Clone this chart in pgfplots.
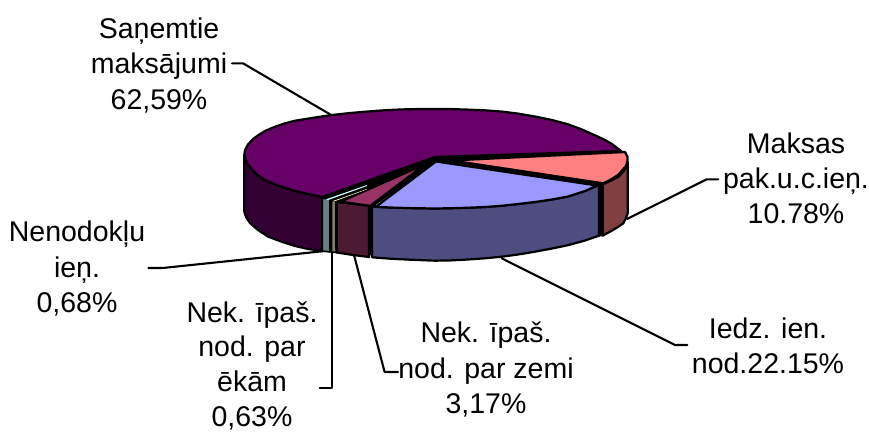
\documentclass[border=0pt]{standalone}
\usepackage{pgfplots}
\pgfplotsset{compat=1.18}
\usepackage{fontspec}
\setmainfont{Liberation Sans}
\definecolor{pTop}{HTML}{660066}\definecolor{pSide}{HTML}{330033}
\definecolor{bTop}{HTML}{9999FF}\definecolor{bSide}{HTML}{4D4D80}
\definecolor{sTop}{HTML}{FF8080}\definecolor{sSide}{HTML}{804040}
\definecolor{mTop}{HTML}{993366}\definecolor{mSide}{HTML}{4D1A33}
\definecolor{cTop}{HTML}{CCFFFF}\definecolor{cSide}{HTML}{668080}
\definecolor{yTop}{HTML}{FFFFCC}\definecolor{ySide}{HTML}{808066}
\newcommand{\lab}[3]{\node[anchor=base,inner sep=0pt,font=\fontsize{28.5}{34}\selectfont] at (axis cs:#1,#2) {#3};}
\begin{document}
\begin{tikzpicture}
\begin{axis}[
  at={(0,0)},anchor=south west,
  scale only axis,width=869pt,height=431pt,
  xmin=0,xmax=869,ymin=0,ymax=431,y dir=reverse,
  hide axis,clip=false,
  every axis plot/.append style={line join=round,line cap=round}]
% leader lines
\addplot[black,line width=2.1pt] coordinates {(232,63.3)(243,63.3)(332,115.5)};
\addplot[black,line width=2.1pt] coordinates {(718.3,179.3)(706.7,179.3)(627,219)};
\addplot[black,line width=2.1pt] coordinates {(687.3,345)(675,345)(501.7,258.3)};
\addplot[black,line width=2.1pt] coordinates {(148.5,268)(162.6,268)(325,251)};
\addplot[black,line width=2.1pt] coordinates {(319.6,388)(332.2,388)(332.2,252)};
\addplot[black,line width=2.1pt] coordinates {(398,372)(384.6,372)(354,255)};
% backing
\addplot[fill=black,draw=black,line width=1pt] coordinates {(322.3,198)(372,206)(600,185)(627,160)(627,213)(602,235.7)(435,260)(322.3,251)} -- cycle;
% purple side
\addplot[fill=pSide,draw=black,line width=2.2pt] coordinates {(244.3,155)(246,161)(250,167)(257,174.5)(265,180)(278,185.5)(291.7,190)(306,193.5)(322.3,197)(322.3,251)(308,249)(295,246)(281,241.5)(268.3,236.7)(258,230)(250,223)(246,217)(244.3,211.7)} -- cycle;
% small sides
\addplot[fill=cSide,draw=black,line width=1.6pt] coordinates {(322.3,198)(330,199.5)(330,252)(322.3,251)} -- cycle;
\addplot[fill=ySide,draw=black,line width=1.6pt] coordinates {(331.5,200)(336,201.5)(336,252.5)(331.5,252)} -- cycle;
\addplot[fill=mSide,draw=black,line width=2.2pt] coordinates {(336.7,202)(369,205.5)(369,257)(353,255)(336.7,252.5)} -- cycle;
% blue side
\addplot[fill=bSide,draw=black,line width=2.2pt] coordinates {(372,206.7)(390,207.5)(410,208.1)(435,208.5)(451,208.2)(468,207.7)(485,207)(502,205.7)(518,204)(535,202)(552,199.5)(568,196.5)(585,191)(599,185)(599,235.7)(585,240.5)(568,245.2)(552,248.5)(535,251.7)(518,254.5)(502,256.7)(485,258.3)(468,259.5)(451,260.4)(435,260.7)(410,259.7)(390,258.7)(372,257.3)} -- cycle;
% brown side
\addplot[fill=sSide,draw=black,line width=2.2pt] coordinates {(602.7,184.5)(610,181)(618.3,177)(624,171)(627.7,162)(627.7,213.3)(626,218)(623.3,223.3)(618,227)(611.7,230.7)(602.7,235.7)} -- cycle;
% black gaps on the top face
\addplot[fill=black,draw=black,line width=1pt] coordinates {(322.3,197)(435,157)(621,151)(625,152)(603,184)(600,185)(436,161.5)(372,207)(337,202)} -- cycle;
% purple top
\addplot[fill=pTop,draw=black,line width=2.2pt] coordinates {(244.3,155)(245,150)(248,144.5)(253,139)(258.5,135)(266,130.5)(275,126.7)(285,123.3)(295,120.7)(313,117.8)(332,115)(350,113)(368,111.5)(385,110.2)(402,109.4)(420,109)(435,109)(452,109.1)(468,109.6)(485,110.3)(502,111.6)(518,113.6)(535,116.5)(552,120)(568,124.3)(582,129.5)(595,135.3)(604,139.5)(612,144)(621,151)(435,157)(322.3,197)(306,193.5)(291.7,190)(278,185.5)(265,180)(257,174.5)(250,167)(246,161)} -- cycle;
% thin wedges
\addplot[fill=cTop,draw=none] coordinates {(326,199.3)(367,185)(367,186)(328,200.1)} -- cycle;
\addplot[fill=yTop,draw=none] coordinates {(333,201)(367,189)(367,189.4)(334,201.5)} -- cycle;
% magenta top
\addplot[fill=mTop,draw=black,line width=1.5pt] coordinates {(423,165.5)(342,201.5)(370,205.5)} -- cycle;
% blue top
\addplot[fill=bTop,draw=black,line width=2.2pt] coordinates {(436,161.5)(376,206.7)(390,207.5)(410,208.1)(435,208.5)(451,208.2)(468,207.7)(485,207)(502,205.7)(518,204)(535,202)(552,199.5)(568,196.5)(585,191)(597,185.5)} -- cycle;
% salmon top
\addplot[fill=sTop,draw=black,line width=2.2pt] coordinates {(451.7,160.5)(625,152)(627.5,156.7)(627.5,161)(626,166)(618,175)(610,180)(603.3,183.3)} -- cycle;
% labels
\lab{159}{38}{Saņemtie}
\lab{159}{73}{maksājumi}
\lab{159}{109}{62,59\%}
\lab{796}{153}{Maksas}
\lab{796}{188}{pak.u.c.ieņ.}
\lab{796}{223.5}{10.78\%}
\lab{768}{338}{Iedz. ien.}
\lab{768}{373}{nod.22.15\%}
\lab{77}{241}{Nenodokļu}
\lab{77}{277}{ieņ.}
\lab{77}{312.5}{0,68\%}
\lab{252}{322}{Nek. īpaš.}
\lab{252}{356}{nod. par}
\lab{252}{391}{ēkām}
\lab{252}{426}{0,63\%}
\lab{486}{342}{Nek. īpaš.}
\lab{486}{378}{nod. par zemi}
\lab{486}{413}{3,17\%}
\end{axis}
\path (0,0) rectangle (869pt,431pt);
\end{tikzpicture}
\end{document}
